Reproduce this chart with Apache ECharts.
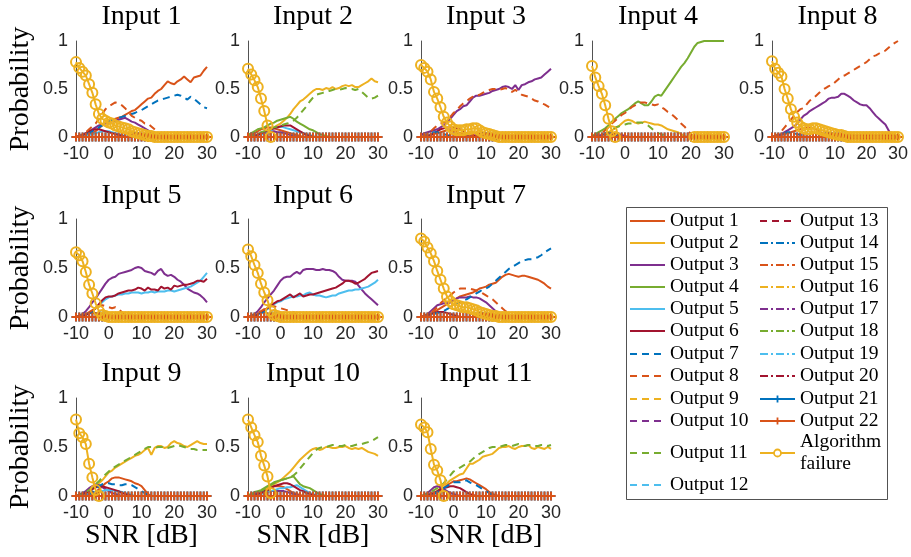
<!DOCTYPE html>
<html>
<head>
<meta charset="utf-8">
<script src="https://cdn.jsdelivr.net/npm/echarts@6/dist/echarts.min.js"></script>
<style>
html,body{margin:0;padding:0;background:#fff}
#chart{width:911px;height:557px}
</style>
</head>
<body>
<div id="chart"></div>
<script>
// SNR sweep shared by every panel (dB)
const snr = [-10,-9,-8,-7,-6,-5,-4,-3,-2,-1,0,1,2,3,4,5,6,7,8,9,10,11,12,13,14,15,16,17,18,19,20,21,22,23,24,25,26,27,28,29,30];

// Outputs 21 and 22 stay at zero probability in every panel
const zeroRow = [0,0,0,0,0,0,0,0,0,0, 0,0,0,0,0,0,0,0,0,0, 0,0,0,0,0,0,0,0,0,0, 0,0,0,0,0,0,0,0,0,0, 0];

const panelTitles = ['Input 1','Input 2','Input 3','Input 4','Input 8','Input 5','Input 6','Input 7','Input 9','Input 10','Input 11'];
const legendLabels = ['Output 1','Output 2','Output 3','Output 4','Output 5','Output 6','Output 7','Output 8','Output 9','Output 10','Output 11',
  'Output 12','Output 13','Output 14','Output 15','Output 16','Output 17','Output 18','Output 19','Output 20','Output 21','Output 22'];
const failureLabel = ['Algorithm', 'failure'];

// ---- Input 1 ----
const input1 = {
  o1: [0,0,.01,.02,.03,.04,.06,.09,.12,.15, .17,.18,.19,.20,.21,.23,.25,.27,.28,.31, .34,.37,.40,.41,.45,.48,.50,.54,.58,.56, .55,.58,.60,.63,.60,.57,.62,.63,.64,.69, .73],
  o3: [0,.01,.02,.04,.06,.08,.10,.12,.13,.14, .15,.16,.17,.18,.19,.20,.18,.16,.15,.13, .11,.09,.07,.05,.02,.01,0,0,0,0, 0,0,0,0,0,0,0,0,0,0, 0],
  o5: [0,0,0,.01,.02,.03,.04,.05,.06,.06, .06,.05,.04,.03,.02,.01,0,0,0,0, 0,0,0,0,0,0,0,0,0,0, 0,0,0,0,0,0,0,0,0,0, 0],
  o6: [0,.01,.02,.04,.06,.07,.08,.08,.07,.06, .05,.04,.03,.02,.01,0,0,0,0,0, 0,0,0,0,0,0,0,0,0,0, 0,0,0,0,0,0,0,0,0,0, 0],
  o7: [0,0,.01,.02,.04,.06,.08,.10,.12,.15, .17,.18,.19,.20,.21,.22,.23,.24,.25,.27, .28,.30,.32,.34,.36,.38,.39,.40,.41,.42, .43,.44,.43,.41,.39,.42,.40,.37,.34,.31, .30],
  o8: [0,.01,.02,.05,.08,.11,.14,.19,.24,.29, .32,.34,.36,.35,.33,.30,.26,.22,.20,.18, .17,.14,.14,.11,.08,.05,.03,.01,0,0, 0,0,0,0,0,0,0,0,0,0, 0]
};
const failure1 = [.78,.72,.68,.64,.55,.46,.34,.24,.19,.17, .15,.14,.12,.11,.10,.09,.08,.06,.05,.04, .03,.02,.01,.01,0,0,0,0,0,0, 0,0,0,0,0,0,0,0,0,0, 0];

// ---- Input 2 ----
const input2 = {
  o1: [0,.02,.04,.06,.08,.09,.10,.10,.09,.08, .07,.06,.05,.04,.03,.02,.01,0,0,0, 0,0,0,0,0,0,0,0,0,0, 0,0,0,0,0,0,0,0,0,0, 0],
  o2: [0,0,.01,.02,.03,.04,.06,.08,.10,.12, .14,.17,.20,.24,.29,.33,.37,.39,.42,.45, .48,.50,.50,.49,.51,.50,.52,.50,.51,.53, .54,.53,.54,.52,.52,.54,.56,.58,.61,.58, .57],
  o3: [0,0,.01,.02,.03,.04,.05,.06,.06,.05, .05,.04,.03,.02,.01,0,0,0,0,0, 0,0,0,0,0,0,0,0,0,0, 0,0,0,0,0,0,0,0,0,0, 0],
  o4: [.02,.04,.06,.08,.09,.10,.12,.14,.15,.17, .18,.19,.20,.21,.19,.16,.14,.12,.10,.08, .07,.05,.03,.02,.01,0,0,0,0,0, 0,0,0,0,0,0,0,0,0,0, 0],
  o5: [0,0,0,0,.02,.04,.06,.07,.09,.10, .11,.10,.09,.08,.07,.06,.05,.04,.03,.02, .01,0,0,0,0,0,0,0,0,0, 0,0,0,0,0,0,0,0,0,0, 0],
  o6: [0,0,.01,.02,.04,.05,.07,.08,.09,.10, .11,.12,.12,.12,.10,.08,.06,.04,.02,.01, 0,0,0,0,0,0,0,0,0,0, 0,0,0,0,0,0,0,0,0,0, 0],
  o11: [0,.01,.02,.03,.05,.06,.08,.09,.10,.11, .12,.13,.14,.15,.17,.20,.24,.28,.32,.37, .41,.44,.45,.46,.47,.48,.49,.50,.49,.50, .51,.50,.50,.49,.50,.47,.44,.41,.40,.41, .43]
};
const failure2 = [.71,.65,.59,.52,.40,.27,.12,0,null,null, null,null,null,null,null,null,null,null,null,null, null,null,null,null,null,null,null,null,null,null, null,null,null,null,null,null,null,null,null,null, null];

// ---- Input 3 ----
const input3 = {
  o1: [0,0,.01,.02,.03,.04,.05,.06,.07,.07, .06,.05,.04,.03,.02,.01,0,0,0,0, 0,0,0,0,0,0,0,0,0,0, 0,0,0,0,0,0,0,0,0,0, 0],
  o3: [.02,.04,.05,.06,.07,.08,.10,.12,.15,.19, .23,.27,.29,.32,.33,.37,.41,.43,.43,.44, .45,.46,.48,.49,.50,.52,.53,.52,.50,.54, .49,.54,.55,.57,.58,.60,.61,.62,.65,.68, .71],
  o6: [0,0,.01,.02,.04,.06,.08,.09,.10,.10, .10,.09,.08,.06,.04,.03,.02,.01,0,0, 0,0,0,0,0,0,0,0,0,0, 0,0,0,0,0,0,0,0,0,0, 0],
  o7: [0,.01,.02,.04,.05,.05,.04,.03,.02,.01, 0,0,0,0,0,0,0,0,0,0, 0,0,0,0,0,0,0,0,0,0, 0,0,0,0,0,0,0,0,0,0, 0],
  o8: [0,.01,.03,.06,.09,.12,.14,.15,.17,.21, .25,.28,.32,.35,.37,.40,.42,.43,.44,.46, .48,.49,.50,.50,.49,.50,.51,.49,.47,.49, .47,.44,.43,.42,.40,.38,.37,.35,.34,.32, .30]
};
const failure3 = [.75,.72,.68,.60,.47,.40,.31,.21,.15,.11, .08,.07,.07,.07,.08,.08,.09,.09,.07,.05, .04,.03,.02,.01,0,0,0,0,0,0, 0,0,0,0,0,0,0,0,0,0, 0];

// ---- Input 4 ----
const input4 = {
  o2: [0,0,.01,.02,.03,.05,.07,.09,.11,.14, .17,.18,.17,.15,.14,.15,.16,.15,.14,.13, .13,.12,.10,.08,.07,.06,.05,.03,.01,0, 0,0,0,0,0,0,0,0,0,0, 0],
  o3: [0,0,.01,.02,.03,.04,.04,.04,.03,.02, .01,0,0,0,0,0,0,0,0,0, 0,0,0,0,0,0,0,0,0,0, 0,0,0,0,0,0,0,0,0,0, 0],
  o4: [.01,.03,.05,.07,.09,.12,.16,.19,.22,.25, .27,.29,.32,.35,.37,.35,.33,.33,.37,.42, .44,.43,.48,.53,.58,.63,.68,.73,.77,.82, .88,.94,.98,.99,1,1,1,1,1,1, 1],
  o7: [0,.01,.02,.03,.04,.04,.03,.02,.01,0, 0,0,0,0,0,0,0,0,0,0, 0,0,0,0,0,0,0,0,0,0, 0,0,0,0,0,0,0,0,0,0, 0],
  o8: [0,.01,.02,.04,.07,.10,.14,.17,.20,.23, .25,.28,.31,.33,.35,.36,.36,.35,.34,.33, .34,.31,.29,.26,.24,.21,.18,.14,.11,.07, .03,0,0,0,0,0,0,0,0,0, 0],
  o11: [0,0,0,.01,.02,.04,.07,.10,.11,.12, .13,.14,.14,.15,.15,.15,.14,.12,.09,.06, .04,.03,.01,0,0,0,0,0,0,0, 0,0,0,0,0,0,0,0,0,0, 0]
};
const failure4 = [.74,.62,.53,.45,.33,.19,.06,0,null,null, null,null,null,null,null,null,null,null,null,null, null,null,null,null,null,null,null,null,null,null, null,0,0,0,0,0,0,0,0,0, 0];

// ---- Input 8 ----
const input8 = {
  o1: [0,0,.01,.02,.03,.04,.05,.06,.07,.08, .09,.10,.10,.09,.08,.06,.04,.03,.02,.01, 0,0,0,0,0,0,0,0,0,0, 0,0,0,0,0,0,0,0,0,0, 0],
  o3: [0,.01,.02,.03,.05,.07,.09,.11,.14,.18, .22,.24,.27,.29,.31,.33,.35,.37,.40,.41, .41,.42,.45,.45,.43,.41,.38,.36,.34,.33, .33,.30,.26,.22,.19,.16,.13,.07,.01,0, 0],
  o7: [0,.01,.02,.03,.04,.05,.05,.04,.03,.02, .01,0,0,0,0,0,0,0,0,0, 0,0,0,0,0,0,0,0,0,0, 0,0,0,0,0,0,0,0,0,0, 0],
  o8: [0,.01,.03,.06,.10,.14,.18,.22,.26,.29, .30,.34,.38,.40,.43,.46,.49,.51,.53,.54, .57,.60,.63,.64,.66,.68,.70,.72,.74,.76, .78,.81,.84,.85,.87,.89,.90,.93,.96,.98, 1]
};
const failure8 = [.79,.71,.67,.63,.50,.40,.29,.21,.15,.11, .09,.08,.08,.09,.09,.08,.07,.06,.05,.04, .03,.02,.02,.01,0,0,0,0,0,0, 0,0,0,0,0,0,0,0,0,0, 0];

// ---- Input 5 ----
const input5 = {
  o1: [0,.01,.02,.03,.04,.04,.04,.03,.02,.01, 0,0,0,0,0,0,0,0,0,0, 0,0,0,0,0,0,0,0,0,0, 0,0,0,0,0,0,0,0,0,0, 0],
  o3: [0,.01,.03,.06,.10,.15,.19,.24,.29,.34, .38,.40,.41,.44,.45,.46,.47,.48,.50,.51, .50,.47,.46,.45,.43,.47,.49,.44,.42,.43, .41,.38,.36,.33,.29,.27,.25,.24,.22,.19, .15],
  o5: [0,0,.01,.02,.04,.06,.09,.12,.15,.18, .20,.21,.22,.23,.23,.24,.24,.25,.25,.25, .24,.25,.25,.26,.25,.26,.26,.26,.27,.27, .26,.27,.28,.29,.30,.31,.33,.35,.37,.41, .45],
  o6: [0,0,.01,.02,.04,.06,.09,.13,.17,.20, .21,.21,.22,.24,.25,.26,.27,.27,.28,.30, .29,.27,.30,.28,.28,.27,.31,.29,.30,.28, .32,.31,.32,.33,.33,.34,.35,.37,.37,.36, .39],
  o7: [0,.01,.02,.03,.04,.05,.05,.05,.04,.03, .02,.01,0,0,0,0,0,0,0,0, 0,0,0,0,0,0,0,0,0,0, 0,0,0,0,0,0,0,0,0,0, 0],
  o8: [0,.01,.02,.03,.05,.07,.09,.11,.12,.11, .10,.09,.10,.08,.05,.02,0,0,0,0, 0,0,0,0,0,0,0,0,0,0, 0,0,0,0,0,0,0,0,0,0, 0]
};
const failure5 = [.66,.63,.57,.46,.33,.24,.14,.06,.02,.01, 0,0,0,0,0,0,0,0,0,0, 0,0,0,0,0,0,0,0,0,0, 0,0,0,0,0,0,0,0,0,0, 0];

// ---- Input 6 ----
const input6 = {
  o3: [0,.01,.03,.06,.10,.15,.19,.23,.27,.32, .37,.40,.41,.41,.44,.46,.44,.48,.49,.49, .49,.48,.48,.49,.48,.48,.47,.45,.41,.38, .37,.37,.37,.36,.32,.28,.24,.21,.18,.15, .12],
  o5: [0,0,.01,.02,.04,.06,.08,.11,.13,.15, .16,.18,.19,.20,.21,.21,.22,.22,.24,.25, .23,.22,.22,.21,.20,.21,.22,.22,.24,.25, .26,.27,.27,.28,.28,.29,.30,.31,.33,.35, .38],
  o6: [0,0,.01,.03,.05,.07,.09,.12,.14,.16, .17,.19,.21,.23,.20,.22,.24,.21,.22,.23, .23,.24,.25,.26,.27,.28,.29,.30,.32,.34, .37,.37,.36,.34,.35,.37,.39,.42,.45,.46, .47],
  o7: [0,.01,.02,.03,.04,.05,.05,.05,.04,.03, .02,.01,0,0,0,0,0,0,0,0, 0,0,0,0,0,0,0,0,0,0, 0,0,0,0,0,0,0,0,0,0, 0],
  o8: [0,.01,.02,.04,.06,.08,.10,.11,.11,.10, .09,.08,.07,.06,.05,.03,.01,0,0,0, 0,0,0,0,0,0,0,0,0,0, 0,0,0,0,0,0,0,0,0,0, 0]
};
const failure6 = [.69,.62,.53,.45,.34,.25,.17,.06,.02,.01, 0,0,0,0,0,0,0,0,0,0, 0,0,0,0,0,0,0,0,0,0, 0,0,0,0,0,0,0,0,0,0, 0];

// ---- Input 7 ----
const input7 = {
  o1: [0,0,.01,.03,.05,.07,.09,.11,.13,.15, .17,.19,.21,.22,.23,.24,.25,.27,.29,.30, .31,.33,.34,.35,.38,.41,.43,.44,.43,.42, .41,.42,.42,.41,.40,.39,.38,.36,.34,.31, .29],
  o3: [0,.01,.03,.06,.09,.12,.13,.14,.14,.15, .17,.19,.20,.20,.20,.21,.20,.20,.19,.17, .15,.12,.09,.06,.03,.01,0,0,0,0, 0,0,0,0,0,0,0,0,0,0, 0],
  o6: [0,.01,.02,.03,.04,.05,.05,.05,.04,.03, .02,.01,0,0,0,0,0,0,0,0, 0,0,0,0,0,0,0,0,0,0, 0,0,0,0,0,0,0,0,0,0, 0],
  o7: [0,0,.01,.02,.03,.04,.05,.06,.08,.10, .12,.14,.15,.17,.18,.20,.22,.24,.26,.28, .29,.31,.34,.37,.40,.43,.46,.49,.51,.53, .55,.57,.58,.59,.59,.60,.61,.63,.66,.68, .70],
  o8: [0,.01,.02,.04,.07,.10,.14,.17,.20,.22, .25,.27,.29,.29,.29,.29,.28,.27,.26,.24, .22,.20,.18,.15,.12,.09,.06,.04,.02,.01, 0,0,0,0,0,0,0,0,0,0, 0]
};
const failure7 = [.80,.77,.71,.65,.57,.47,.38,.29,.21,.16, .13,.12,.11,.10,.10,.09,.08,.07,.05,.04, .03,.02,.01,.01,0,0,0,0,0,0, 0,0,0,0,0,0,0,0,0,0, 0];

// ---- Input 9 ----
const input9 = {
  o1: [0,0,0,0,.01,.02,.04,.07,.10,.13, .15,.18,.19,.19,.18,.17,.16,.15,.13,.12, .10,.06,.02,0,0,0,0,0,0,0, 0,0,0,0,0,0,0,0,0,0, 0],
  o2: [0,0,.01,.02,.04,.07,.10,.13,.16,.20, .24,.26,.29,.31,.33,.35,.37,.39,.41,.42, .44,.47,.49,.42,.49,.51,.51,.49,.50,.54, .56,.54,.53,.51,.50,.52,.54,.56,.54,.53, .53],
  o3: [0,.01,.03,.05,.08,.10,.12,.11,.09,.07, .05,.03,.02,.01,0,0,0,0,0,0, 0,0,0,0,0,0,0,0,0,0, 0,0,0,0,0,0,0,0,0,0, 0],
  o5: [0,0,0,.01,.02,.03,.04,.05,.05,.06, .06,.06,.05,.05,.04,.03,.02,.01,0,0, 0,0,0,0,0,0,0,0,0,0, 0,0,0,0,0,0,0,0,0,0, 0],
  o6: [0,.01,.02,.03,.05,.07,.09,.10,.10,.09, .08,.07,.06,.05,.03,.02,.01,0,0,0, 0,0,0,0,0,0,0,0,0,0, 0,0,0,0,0,0,0,0,0,0, 0],
  o7: [0,0,0,0,.02,.04,.07,.10,.12,.13, .13,.12,.12,.11,.11,.12,.12,.11,.09,.07, .05,.03,.01,0,0,0,0,0,0,0, 0,0,0,0,0,0,0,0,0,0, 0],
  o11: [0,.01,.02,.04,.06,.09,.12,.15,.19,.22, .25,.28,.30,.32,.34,.36,.38,.40,.42,.44, .46,.48,.50,.50,.49,.50,.50,.50,.49,.50, .51,.52,.51,.50,.49,.48,.48,.47,.47,.47, .47]
};
const failure9 = [.78,.64,.60,.53,.33,.19,.06,0,null,null, null,null,null,null,null,null,null,null,null,null, null,null,null,null,null,null,null,null,null,null, null,null,null,null,null,null,null,null,null,null, null];

// ---- Input 10 ----
const input10 = {
  o1: [0,.01,.02,.03,.05,.07,.08,.09,.10,.10, .10,.09,.07,.05,.03,.02,.01,0,0,0, 0,0,0,0,0,0,0,0,0,0, 0,0,0,0,0,0,0,0,0,0, 0],
  o2: [0,0,.01,.02,.04,.06,.08,.10,.12,.14, .16,.19,.22,.25,.29,.33,.37,.40,.43,.46, .48,.49,.47,.48,.50,.50,.49,.49,.50,.50, .51,.49,.48,.49,.48,.49,.47,.45,.44,.43, .41],
  o3: [0,.01,.02,.03,.04,.05,.05,.05,.05,.05, .05,.05,.04,.03,.02,.01,0,0,0,0, 0,0,0,0,0,0,0,0,0,0, 0,0,0,0,0,0,0,0,0,0, 0],
  o4: [.01,.02,.04,.05,.06,.08,.10,.12,.14,.15, .16,.17,.18,.19,.20,.16,.12,.10,.09,.08, .06,.04,.02,.01,0,0,0,0,0,0, 0,0,0,0,0,0,0,0,0,0, 0],
  o5: [0,0,0,.01,.02,.03,.04,.05,.06,.07, .08,.08,.09,.09,.10,.11,.09,.07,.05,.03, .02,.01,0,0,0,0,0,0,0,0, 0,0,0,0,0,0,0,0,0,0, 0],
  o6: [0,0,.01,.02,.03,.05,.06,.08,.10,.11, .12,.13,.13,.12,.10,.08,.06,.05,.03,.02, .01,0,0,0,0,0,0,0,0,0, 0,0,0,0,0,0,0,0,0,0, 0],
  o11: [0,.01,.02,.03,.05,.07,.09,.11,.13,.15, .16,.17,.18,.19,.21,.24,.28,.32,.36,.40, .44,.47,.49,.50,.50,.51,.52,.52,.51,.51, .52,.51,.51,.52,.53,.53,.54,.55,.56,.58, .60]
};
const failure10 = [.78,.70,.62,.55,.41,.31,.20,.03,null,null, null,null,null,null,null,null,null,null,null,null, null,null,null,null,null,null,null,null,null,null, null,null,null,null,null,null,null,null,null,null, null];

// ---- Input 11 ----
const input11 = {
  o1: [0,0,0,.01,.02,.04,.06,.08,.11,.13, .15,.15,.16,.17,.18,.17,.15,.13,.11,.09, .07,.04,.02,.01,0,0,0,0,0,0, 0,0,0,0,0,0,0,0,0,0, 0],
  o2: [0,0,.01,.02,.03,.05,.08,.11,.13,.16, .18,.20,.22,.23,.28,.33,.33,.35,.37,.40, .41,.42,.43,.46,.49,.50,.50,.51,.49,.48, .50,.51,.51,.52,.49,.48,.50,.49,.48,.50, .48],
  o3: [0,.01,.03,.06,.09,.10,.09,.07,.05,.03, .02,.01,0,0,0,0,0,0,0,0, 0,0,0,0,0,0,0,0,0,0, 0,0,0,0,0,0,0,0,0,0, 0],
  o6: [0,0,.01,.02,.03,.05,.07,.08,.09,.10, .10,.09,.08,.06,.04,.02,.01,0,0,0, 0,0,0,0,0,0,0,0,0,0, 0,0,0,0,0,0,0,0,0,0, 0],
  o7: [0,0,0,.01,.02,.04,.06,.08,.10,.12, .14,.14,.14,.15,.16,.14,.12,.11,.09,.07, .05,.03,.01,0,0,0,0,0,0,0, 0,0,0,0,0,0,0,0,0,0, 0],
  o11: [0,.01,.02,.04,.06,.08,.10,.13,.17,.21, .25,.27,.29,.31,.33,.35,.38,.41,.43,.45, .47,.49,.50,.50,.50,.51,.52,.52,.51,.52, .53,.52,.51,.52,.52,.51,.51,.52,.52,.51, .52]
};
const failure11 = [.73,.70,.65,.48,.32,.26,.16,0,null,null, null,null,null,null,null,null,null,null,null,null, null,null,null,null,null,null,null,null,null,null, null,null,null,null,null,null,null,null,null,null, null];

// Panels in drawing order (row by row)
const panelValues = [input1, input2, input3, input4, input8, input5, input6, input7, input9, input10, input11];
const panelFailure = [failure1, failure2, failure3, failure4, failure8, failure5, failure6, failure7, failure9, failure10, failure11];

// ---------------- styling & layout ----------------
const BLUE = '#0072BD', ORANGE = '#D95319', YELLOW = '#EDB120', PURPLE = '#7E2F8E', GREEN = '#77AC30', CYAN = '#4DBEEE', DARKRED = '#A2142F';
const outputColors = [ORANGE, YELLOW, PURPLE, GREEN, CYAN, DARKRED,
  BLUE, ORANGE, YELLOW, PURPLE, GREEN, CYAN, DARKRED,
  BLUE, ORANGE, YELLOW, PURPLE, GREEN, CYAN, DARKRED,
  BLUE, ORANGE];
const DASH = [7, 5];
const DASHDOT = [8, 3, 2, 3];
function dashFor(k) {
  if (k >= 7 && k <= 13) return DASH;
  if (k >= 14 && k <= 20) return DASHDOT;
  return 'solid';
}

// grid boxes: [left, top, width, height]
const gridBoxes = [
  [76, 41, 131, 96], [248, 41, 130, 96], [421, 41, 130, 96], [592, 41, 132, 96], [772, 41, 131, 96],
  [76, 219, 131, 98], [248, 219, 130, 98], [421, 219, 130, 98],
  [76, 398, 131, 98], [248, 398, 130, 98], [421, 398, 130, 98]
];
const titleY = [17, 17, 17, 17, 17, 196, 196, 196, 374, 374, 374];

const SERIF = '"Liberation Serif", "Times New Roman", serif';
const SANS = '"Liberation Sans", Arial, sans-serif';
const AXIS_COLOR = '#262626';
const LW = 2;
// filled plus sign used as the marker of outputs 21 and 22
const plusPath = 'path://M0,3.9H10V6.1H0Z M3.9,0H6.1V10H3.9Z';

function pairs(values) {
  return snr.map((x, j) => [x, values[j] === null ? '-' : values[j]]);
}

const grids = [], xAxes = [], yAxes = [], series = [], graphics = [];

panelValues.forEach((vals, i) => {
  const [l, t, w, h] = gridBoxes[i];
  grids.push({ left: l, top: t, width: w, height: h, containLabel: false });
  xAxes.push({
    gridIndex: i, type: 'value', min: -10, max: 30, interval: 10,
    axisLine: { show: true, onZero: false, lineStyle: { color: AXIS_COLOR, width: 0.8 } },
    axisTick: { show: false }, splitLine: { show: false },
    axisLabel: { fontFamily: SANS, fontSize: 18, color: AXIS_COLOR, margin: 8 }
  });
  yAxes.push({
    gridIndex: i, type: 'value', min: 0, max: 1, interval: 0.5,
    axisLine: { show: true, onZero: false, lineStyle: { color: AXIS_COLOR, width: 0.8 } },
    axisTick: { show: false }, splitLine: { show: false },
    axisLabel: { fontFamily: SANS, fontSize: 18, color: AXIS_COLOR, margin: 8 }
  });

  for (let k = 1; k <= 20; k++) {
    const v = vals['o' + k];
    if (!v) continue;
    series.push({
      type: 'line', xAxisIndex: i, yAxisIndex: i, data: pairs(v),
      symbol: 'none', showSymbol: false, clip: false, silent: true,
      lineStyle: { color: outputColors[k - 1], width: LW, type: dashFor(k) },
      itemStyle: { color: outputColors[k - 1] }
    });
  }
  // Outputs 21 and 22 with plus markers
  [21, 22].forEach(k => {
    series.push({
      type: 'line', xAxisIndex: i, yAxisIndex: i, data: pairs(zeroRow),
      symbol: plusPath, symbolSize: 9, showSymbol: true, showAllSymbol: true, clip: false, silent: true,
      lineStyle: { color: outputColors[k - 1], width: LW },
      itemStyle: { color: outputColors[k - 1] }
    });
  });
  // Algorithm failure with open circles
  series.push({
    type: 'line', xAxisIndex: i, yAxisIndex: i, data: pairs(panelFailure[i]),
    symbol: 'circle', symbolSize: 10, showSymbol: true, showAllSymbol: true, clip: false, silent: true,
    connectNulls: false,
    lineStyle: { color: YELLOW, width: LW },
    itemStyle: { color: 'rgba(255,255,255,0)', borderColor: YELLOW, borderWidth: 2 }
  });

  // panel title
  graphics.push({
    type: 'text', x: l + w / 2, y: titleY[i], silent: true,
    style: { text: panelTitles[i], fontFamily: SERIF, fontSize: 28, fill: '#000', align: 'center', verticalAlign: 'middle' }
  });
});

// y-axis labels for the first column, x-axis labels for the bottom row
[0, 5, 8].forEach(i => {
  const [l, t, w, h] = gridBoxes[i];
  graphics.push({
    type: 'text', x: 21, y: t + h / 2, rotation: Math.PI / 2, silent: true,
    style: { text: 'Probability', fontFamily: SERIF, fontSize: 28, fill: '#000', align: 'center', verticalAlign: 'middle' }
  });
});
[8, 9, 10].forEach(i => {
  const [l, t, w, h] = gridBoxes[i];
  graphics.push({
    type: 'text', x: l + w / 2, y: 536, silent: true,
    style: { text: 'SNR [dB]', fontFamily: SERIF, fontSize: 28, fill: '#000', align: 'center', verticalAlign: 'middle' }
  });
});

// ---------------- legend ----------------
const legendBox = { x: 626, y: 207, w: 261, h: 292 };
graphics.push({
  type: 'rect', silent: true,
  shape: { x: legendBox.x + 0.5, y: legendBox.y + 0.5, width: legendBox.w, height: legendBox.h },
  style: { fill: '#fff', stroke: AXIS_COLOR, lineWidth: 0.8 }, z: 10
});
const rowY = [221, 243, 265, 287, 309, 331, 354, 376, 399, 421, 453, 485];
function legendSample(x1, y, color, dash) {
  graphics.push({
    type: 'line', silent: true, z: 11,
    shape: { x1: x1, y1: y, x2: x1 + 35, y2: y },
    style: { stroke: color, lineWidth: LW, lineDash: dash === 'solid' ? null : dash }
  });
}
function legendText(x, y, text) {
  graphics.push({
    type: 'text', x: x, y: y, silent: true, z: 11,
    style: { text: text, fontFamily: SERIF, fontSize: 19.5, fill: '#000', align: 'left', verticalAlign: 'middle' }
  });
}
for (let k = 1; k <= 22; k++) {
  const col2 = k > 12;
  const y = col2 ? rowY[k - 13] : rowY[k - 1];
  const sx = col2 ? 760 : 630;
  legendSample(sx, y, outputColors[k - 1], dashFor(k));
  if (k >= 21) {
    const cx = sx + 17.5;
    graphics.push({ type: 'line', silent: true, z: 12, shape: { x1: cx, y1: y - 3.5, x2: cx, y2: y + 3.5 }, style: { stroke: outputColors[k - 1], lineWidth: 1.8 } });
  }
  legendText(col2 ? 800 : 670, y, legendLabels[k - 1]);
}
legendSample(760, 453, YELLOW, 'solid');
graphics.push({ type: 'circle', silent: true, z: 12, shape: { cx: 777.5, cy: 453, r: 3.5 }, style: { fill: '#fff', stroke: YELLOW, lineWidth: 1.8 } });
legendText(800, 442, failureLabel[0]);
legendText(800, 464, failureLabel[1]);

const chart = echarts.init(document.getElementById('chart'), null, { renderer: 'canvas' });
chart.setOption({
  animation: false,
  backgroundColor: '#fff',
  grid: grids,
  xAxis: xAxes,
  yAxis: yAxes,
  series: series,
  graphic: graphics
});
</script>
</body>
</html>
